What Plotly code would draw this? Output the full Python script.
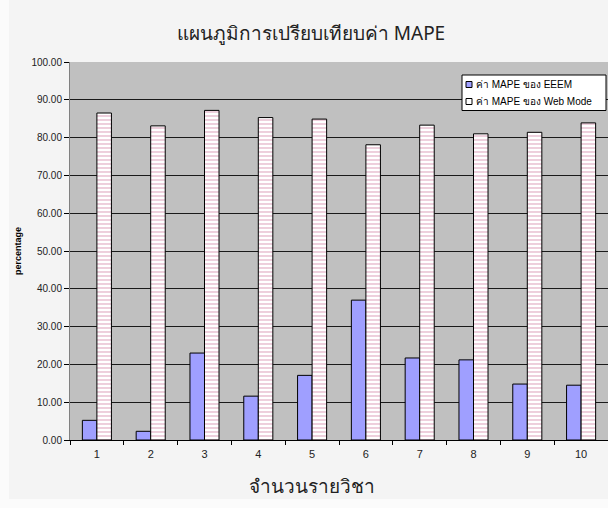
import plotly.graph_objects as go

categories = ["1", "2", "3", "4", "5", "6", "7", "8", "9", "10"]
eeem_mape = [5.2, 2.3, 23.0, 11.6, 17.1, 37.0, 21.7, 21.2, 14.8, 14.5]
web_mape = [86.5, 83.1, 87.2, 85.3, 84.9, 78.1, 83.3, 81.0, 81.4, 83.9]
series_names = ["ค่า MAPE ของ EEEM", "ค่า MAPE ของ Web Mode"]
series_colors = ["#9f9fff", "#ffffff"]
y_ticks = [0, 10, 20, 30, 40, 50, 60, 70, 80, 90, 100]
x_title = "จำนวนรายวิชา"

# plot area in pixels (for placing the hand-made legend / title)
L, R, T, B = 70, 608, 62, 440
W, H = R - L, B - T


def px(x):
    return (x - L) / W


def py(y):
    return (B - y) / H


fig = go.Figure()
fig.add_trace(go.Bar(
    x=categories, y=eeem_mape, name=series_names[0],
    marker=dict(color=series_colors[0], line=dict(color="#000000", width=1)),
))
fig.add_trace(go.Bar(
    x=categories, y=web_mape, name=series_names[1],
    marker=dict(color=series_colors[1], line=dict(color="#000000", width=1),
                pattern=dict(shape="-", fgcolor="#c4608c", bgcolor="#ffffff",
                             size=4, solidity=0.3)),
))

# light outer strips around the chart area
shapes = [
    dict(type="rect", xref="paper", yref="paper", x0=px(-2), x1=px(9), y0=py(510), y1=py(-2),
         fillcolor="#fbfbfb", line=dict(width=0), layer="below"),
    dict(type="rect", xref="paper", yref="paper", x0=px(-2), x1=px(610), y0=py(510), y1=py(499),
         fillcolor="#fbfbfb", line=dict(width=0), layer="below"),
]
# compact legend box like the original
shapes.append(dict(type="rect", xref="paper", yref="paper",
                   x0=px(462), x1=px(606), y0=py(110.5), y1=py(75),
                   fillcolor="#ffffff", line=dict(color="#000000", width=1), layer="above"))
annotations = []
row_y = [84.5, 101.5]
for name, col, yy in zip(series_names, series_colors, row_y):
    shapes.append(dict(type="rect", xref="paper", yref="paper",
                       x0=px(466), x1=px(472), y0=py(yy + 3), y1=py(yy - 3),
                       fillcolor=col, line=dict(color="#000000", width=1), layer="above"))
    annotations.append(dict(text=name, xref="paper", yref="paper", x=px(474), y=py(yy),
                            xanchor="left", yanchor="middle", showarrow=False,
                            font=dict(size=10, family="Liberation Sans, DejaVu Sans, sans-serif",
                                      color="#000000")))
annotations.append(dict(text=x_title, xref="paper", yref="paper", x=px(312), y=py(486),
                        xanchor="center", yanchor="middle", showarrow=False,
                        font=dict(family="Noto Sans, DejaVu Sans, sans-serif", size=19,
                                  color="#222222")))

fig.update_layout(
    width=608, height=508,
    margin=dict(l=L, r=0, t=T, b=508 - B),
    paper_bgcolor="#f4f4f4",
    plot_bgcolor="#c0c0c0",
    barmode="group", bargap=0.46, bargroupgap=0,
    font=dict(family="Liberation Sans, DejaVu Sans, sans-serif", size=10, color="#000000"),
    title=dict(text="แผนภูมิการเปรียบเทียบค่า MAPE", x=311 / 608, xref="container", xanchor="center",
               y=1 - 33 / 508, yanchor="middle", yref="container",
               font=dict(family="Noto Sans, DejaVu Sans, sans-serif", size=19, color="#222222")),
    showlegend=False,
    shapes=shapes,
    annotations=annotations,
)
fig.update_xaxes(
    type="category", tickson="boundaries", ticks="outside", ticklen=4, tickcolor="#000000",
    showline=True, linecolor="#000000", linewidth=1, showgrid=False,
    tickfont=dict(size=11, color="#222222"), ticklabelstandoff=4,
)
fig.update_yaxes(
    range=[0, 100], tickvals=y_ticks, tickformat=".2f", ticks="outside", ticklen=5,
    tickcolor="#000000", showline=True, linecolor="#808080", linewidth=1, mirror=False,
    showgrid=True, gridcolor="#1a1a1a", gridwidth=1, zeroline=False,
    tickfont=dict(size=10, color="#222222"),
    title=dict(text="<b>percentage</b>", font=dict(size=9, color="#000000"), standoff=8),
)

fig.write_html("out.html")
